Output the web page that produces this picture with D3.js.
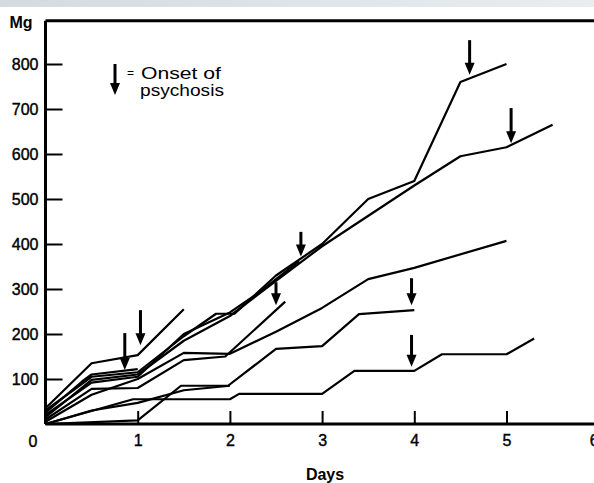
<!DOCTYPE html>
<html>
  <head>
    <meta charset='utf-8'>
    <title></title>
    <script src='https://d3js.org/d3.v7.min.js'></script>
    <style>
      body { margin: 0; background: #fff; }
      svg { display: block; }
      .axis text {
        font: 16px 'Liberation Sans', Arial, sans-serif;
        fill: #000;
        stroke: #000;
        stroke-width: 0.4px;
      }
      .axis path { stroke: #000; stroke-width: 3px; }
      .axis line { stroke: #000; stroke-width: 2px; }
      .dose {
        fill: none;
        stroke: #000;
        stroke-width: 2.2px;
        stroke-linejoin: round;
      }
      .lbl {
        font-family: 'Liberation Sans', Arial, sans-serif;
        fill: #000;
      }
    </style>
  </head>
  <body>
  <script type='text/javascript'>

    // cumulative dose (Mg) per patient, [day, mg]
    var lineA = [[0,30],[0.5,105],[1,115],[1.5,195],[1.85,245],[2.05,245],[2.5,330],[3,400],[3.5,500],[4,540],[4.5,760],[5,800]];
    var lineB = [[0,15],[0.5,98],[1,110],[1.5,185],[2,240],[2.5,318],[3,395],[4,530],[4.5,595],[5,615],[5.5,665]];
    var lineI = [[0,20],[0.5,92],[1,105],[1.5,200],[2,248],[2.3,290],[2.75,362]];
    var lineC = [[0,35],[0.5,135],[1,153],[1.5,255]];
    var lineD = [[0,25],[0.4,95],[0.5,110],[1,122]];
    var lineE = [[0,5],[0.5,65],[1,100],[1.5,158],[2,156],[2.5,205],[3,258],[3.5,322],[4,347],[5,407]];
    var lineH = [[0,10],[0.5,78],[1,80],[1.5,142],[1.95,150],[2.6,272]];
    var lineF = [[0,0],[1,8],[1.47,85],[1.98,85],[2.5,167],[3,173],[3.4,244],[4,253]];
    var lineG = [[0,0],[0.95,55],[2,55],[2.1,67],[3,67],[3.35,118],[4,118],[4.3,155],[5,155],[5.3,190]];
    var lineL = [[0,0],[0.5,30],[1,47],[1.5,75],[2,85]];
    var series = [lineA, lineB, lineI, lineC, lineD, lineE, lineH, lineF, lineG, lineL];

    // onset of psychosis arrows: [day, mg at top, mg at tip]
    var arrows = [[1.03,253,175],[0.86,202,120],[2.5,315,264],[2.77,427,372],[4.6,853,776],[5.05,702,624],[3.97,324,264],[3.97,198,127]];

    var yTicks = [100,200,300,400,500,600,700,800];
    var xTicks = [1,2,3,4,5,6];

    var width = 594;
    var height = 483;

    var x = d3.scaleLinear().domain([0, 6]).range([45.5, 598.7]);
    var y = d3.scaleLinear().domain([0, 800]).range([424, 64]);

    var svg = d3.select('body')
              .append('svg')
              .attr('width', width)
              .attr('height', height);

    // scanner edge band
    var grad = svg.append('defs').append('linearGradient')
              .attr('id', 'band');
    grad.append('stop').attr('offset', '0%').attr('stop-color', '#d3dbe1');
    grad.append('stop').attr('offset', '100%').attr('stop-color', '#e9edf0');
    svg.append('rect')
      .attr('width', width).attr('height', 7)
      .style('fill', 'url(#band)');

    // top frame
    svg.append('line')
      .attr('x1', x(0)).attr('x2', width)
      .attr('y1', y(896)).attr('y2', y(896))
      .style('stroke', '#000').style('stroke-width', 3);

    svg.append('g')
      .attr('class', 'axis axis--y')
      .attr('transform', 'translate(' + x(0) + ',0)')
      .call(d3.axisLeft(y).tickValues(yTicks).tickSizeInner(-17).tickSizeOuter(0).tickPadding(7))
      .select('.domain').attr('d', 'M0,' + y(0) + 'V' + y(896));

    var xAxis = svg.append('g')
      .attr('class', 'axis axis--x')
      .attr('transform', 'translate(0,' + y(0) + ')')
      .call(d3.axisBottom(x).tickValues(xTicks).tickFormat(d3.format('d')).tickSizeInner(-13).tickSizeOuter(0).tickPadding(11));
    xAxis.select('.domain').attr('d', 'M' + x(0) + ',0H' + width);
    // last label sits on the cropped right edge
    xAxis.selectAll('.tick text').filter(function(d) { return d === 6; })
      .attr('dx', -5);

    svg.append('text')
      .attr('class', 'lbl')
      .attr('x', 33).attr('y', 447)
      .attr('text-anchor', 'middle')
      .style('font-size', '16px').style('stroke', '#000').style('stroke-width', 0.4)
      .text('0');

    svg.append('text')
      .attr('class', 'lbl')
      .attr('x', 21).attr('y', 28)
      .attr('text-anchor', 'middle')
      .style('font-size', '16px').style('font-weight', 'bold')
      .text('Mg');

    svg.append('text')
      .attr('class', 'lbl')
      .attr('x', 325).attr('y', 480)
      .attr('text-anchor', 'middle')
      .style('font-size', '16px').style('font-weight', 'bold')
      .text('Days');

    var line = d3.line()
              .x(function(d) { return x(d[0]); })
              .y(function(d) { return y(d[1]); });

    svg.selectAll('.dose')
      .data(series)
      .enter().append('path')
      .attr('class', 'dose')
      .attr('d', line);

    function drawArrow(px, top, tip) {
      var head = 12;
      svg.append('line')
        .attr('x1', px).attr('x2', px)
        .attr('y1', top).attr('y2', tip - head + 2)
        .style('stroke', '#000').style('stroke-width', 3);
      svg.append('path')
        .attr('d', 'M' + (px - 5) + ',' + (tip - head) + 'L' + (px + 5) + ',' + (tip - head) + 'L' + px + ',' + tip + 'Z')
        .style('fill', '#000');
    }

    arrows.forEach(function(a) {
      drawArrow(x(a[0]), y(a[1]), y(a[2]));
    });

    // legend
    drawArrow(115, 64, 95);
    svg.append('text')
      .attr('class', 'lbl')
      .attr('x', 127).attr('y', 77)
      .style('font-size', '12px')
      .text('=');
    svg.append('text')
      .attr('class', 'lbl')
      .attr('x', 141).attr('y', 79)
      .attr('textLength', 80).attr('lengthAdjust', 'spacingAndGlyphs')
      .style('font-size', '16px')
      .text('Onset of');
    svg.append('text')
      .attr('class', 'lbl')
      .attr('x', 140).attr('y', 96)
      .attr('textLength', 84).attr('lengthAdjust', 'spacingAndGlyphs')
      .style('font-size', '16px')
      .text('psychosis');

  </script>
  </body>
</html>
